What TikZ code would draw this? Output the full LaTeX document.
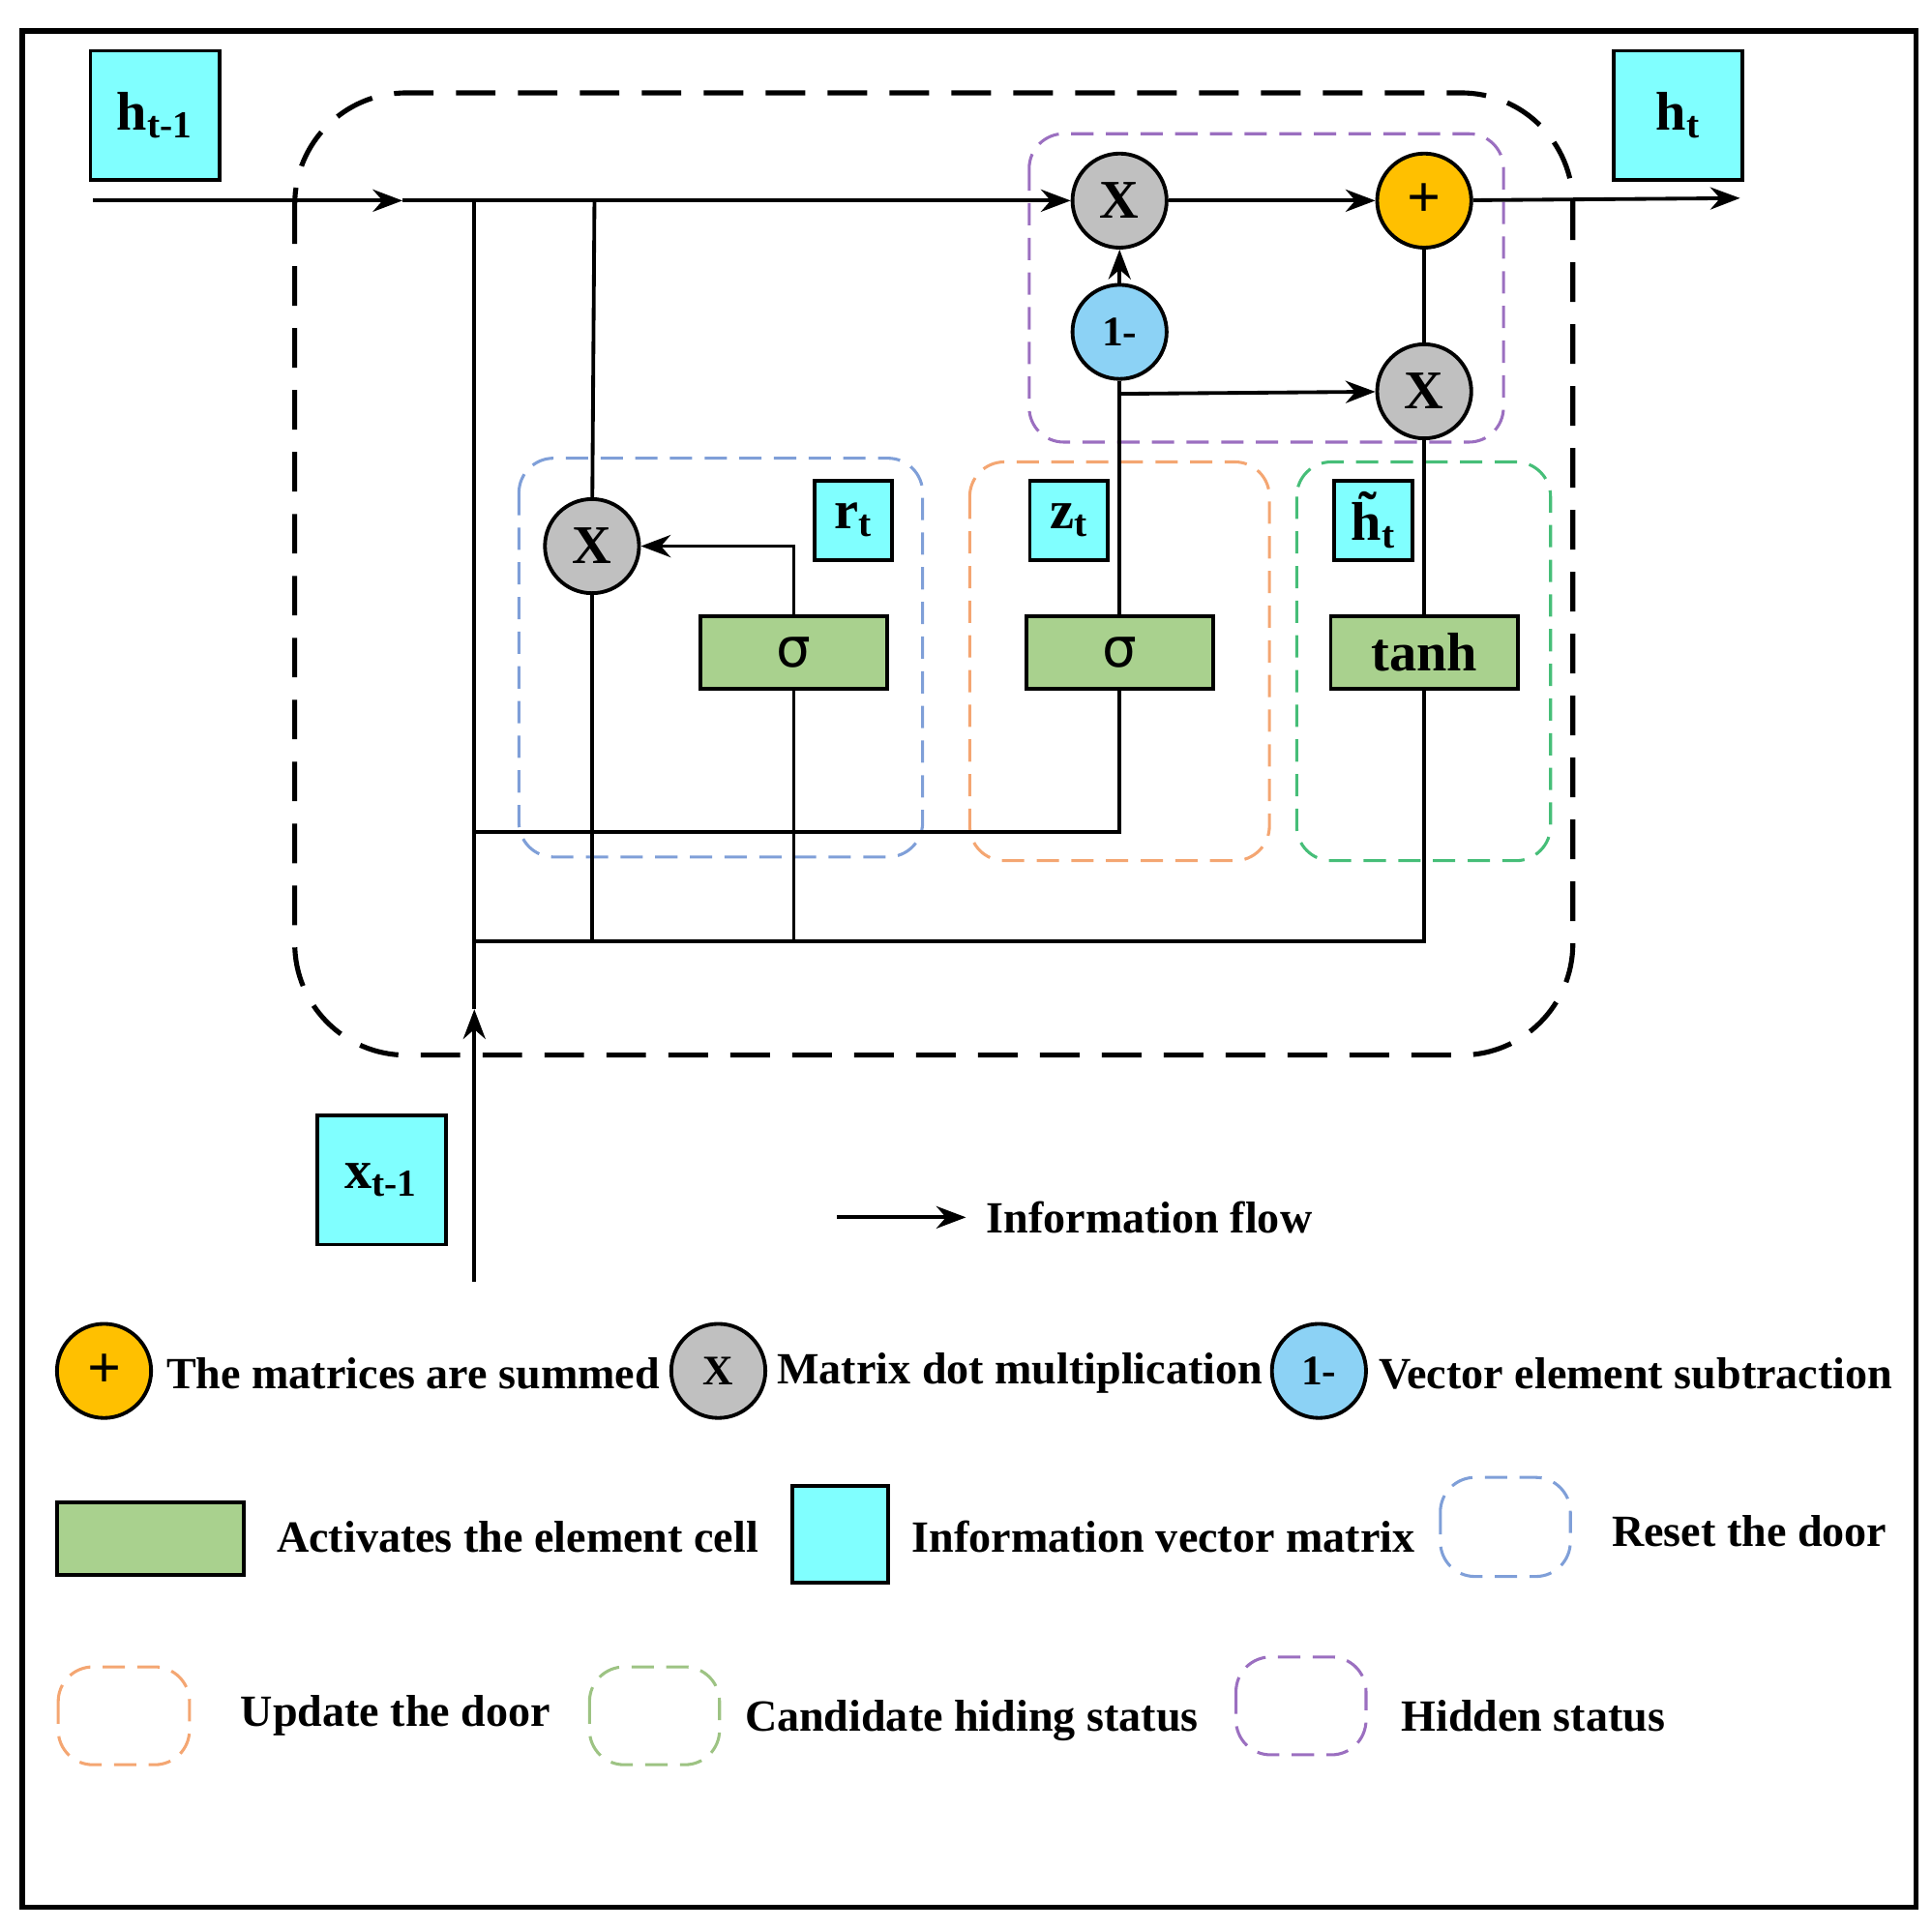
\documentclass[tikz,border=0pt]{standalone}
\usepackage{fontspec}
\setmainfont{Liberation Serif}
\usetikzlibrary{arrows.meta}
\begin{document}
\begin{tikzpicture}[x=0.5pt,y=-0.5pt,line width=1.5pt,
 arr/.style={-{Stealth[length=12pt,width=9pt]}},
 op/.style={circle,draw,minimum size=38pt,inner sep=0pt,font=\fontsize{22}{24}\selectfont\bfseries},
 gray/.style={op,fill=mgray},
 vec/.style={draw,fill=mcyan,inner sep=0pt},
 act/.style={draw,fill=mgreen,inner sep=0pt,minimum width=75.5pt,minimum height=29.5pt,font=\fontsize{22}{24}\selectfont\bfseries},
 grp/.style={dashed,dash pattern=on 9pt off 5pt,rounded corners=14pt,line width=1.2pt},
 leg/.style={anchor=west,font=\fontsize{18}{21}\selectfont\bfseries,inner sep=0pt}]
\definecolor{mgray}{RGB}{192,192,192}
\definecolor{mcyan}{RGB}{128,255,255}
\definecolor{mgreen}{RGB}{169,209,142}
\definecolor{morange}{RGB}{255,192,0}
\definecolor{mblue}{RGB}{140,210,245}
\definecolor{gblue}{RGB}{127,159,216}
\definecolor{gorange}{RGB}{244,166,114}
\definecolor{ggreen}{RGB}{70,190,120}
\definecolor{glgreen}{RGB}{157,195,131}
\definecolor{gpurple}{RGB}{155,111,192}
\useasboundingbox (0,0) rectangle (1560,1557);
\draw[line width=2pt] (18,25) rectangle (1547,1540);
\draw[line width=2pt,dash pattern=on 16pt off 9pt,rounded corners=45pt] (238,75) rectangle (1270,852);
% groups
\draw[grp,gblue] (419,370) rectangle (745,692);
\draw[grp,gorange] (783,373) rectangle (1025,695);
\draw[grp,ggreen] (1047,373) rectangle (1252,695);
\draw[grp,gpurple] (831,108) rectangle (1214,357);
% vector boxes
\node[vec,minimum width=52pt,minimum height=52pt,font=\fontsize{22}{24}\selectfont\bfseries] (hprev) at (125,93) {h\textsubscript{t-1}};
\node[vec,minimum width=52pt,minimum height=52pt,font=\fontsize{22}{24}\selectfont\bfseries] (hcur) at (1355,93) {h\textsubscript{t}};
\node[vec,minimum width=52pt,minimum height=52pt,font=\fontsize{22}{24}\selectfont\bfseries] (xprev) at (308,953) {x\textsubscript{t-1}};
\node[vec,minimum width=31.5pt,minimum height=32pt,font=\fontsize{22}{24}\selectfont\bfseries] (rt) at (689,420) {r\textsubscript{t}};
\node[vec,minimum width=31.5pt,minimum height=32pt,font=\fontsize{22}{24}\selectfont\bfseries] (zt) at (863,420) {z\textsubscript{t}};
\node[vec,minimum width=31.5pt,minimum height=32pt,font=\fontsize{22}{24}\selectfont\bfseries] (ht) at (1109,420) {\~h\textsubscript{t}};
% activations
\node[act] (sr) at (641,527) {\fontspec{DejaVu Sans}\mdseries σ};
\node[act] (sz) at (904,527) {\fontspec{DejaVu Sans}\mdseries σ};
\node[act] (th) at (1150,527) {tanh};
% ops
\node[gray] (x1) at (904,162) {X};
\node[op,fill=morange,font=\fontsize{24}{26}\selectfont\bfseries] (plus) at (1150,162) {+};
\node[op,fill=mblue,font=\fontsize{17}{19}\selectfont\bfseries] (om) at (904,268) {1-};
\node[gray] (x2) at (1150,316) {X};
\node[gray] (x3) at (478,441) {X};
% coordinates
\coordinate (s) at (75,162);
\coordinate (m) at (325,162);
\coordinate (out) at (1405,160);
\coordinate (t1) at (383,162);
\coordinate (t2) at (480,162);
\coordinate (xb) at (383,1035);
\coordinate (xm) at (383,815);
\coordinate (a1) at (383,672);
\coordinate (a2) at (904,672);
\coordinate (b1) at (383,760);
\coordinate (b2) at (1150,760);
\coordinate (b3) at (478,760);
\coordinate (b4) at (641,760);
\coordinate (rc) at (641,441);
\coordinate (zc) at (904,318);
% connections
\draw[arr] (s) -- (m);
\draw[arr] (m) -- (x1);
\draw[arr] (x1) -- (plus);
\draw[arr] (plus) -- (out);
\draw[arr] (om) -- (x1);
\draw (plus) -- (x2);
\draw (sz) -- (om);
\draw[arr] (zc) -- (x2);
\draw (th) -- (x2);
\draw[arr] (sr) -- (rc) -- (x3);
\draw (x3) -- (t2);
\draw[arr] (xb) -- (xm);
\draw (xm) -- (t1);
\draw (a1) -- (a2) -- (sz);
\draw (b1) -- (b2) -- (th);
\draw (x3) -- (b3);
\draw (sr) -- (b4);
% legend
\coordinate (l1) at (676,983); \coordinate (l2) at (780,983);
\draw[arr] (l1) -- (l2);
\node[leg] (lf) at (795,983) {Information flow};
\node[op,fill=morange,font=\fontsize{24}{26}\selectfont\bfseries] (lp) at (84,1107) {+};
\node[leg] at (133,1109) {The matrices are summed};
\node[gray,font=\fontsize{17}{19}\selectfont\bfseries] (lx) at (580,1107) {X};
\node[leg] at (626,1109) {Matrix dot multiplication};
\node[op,fill=mblue,font=\fontsize{17}{19}\selectfont\bfseries] (lo) at (1065,1107) {1-};
\node[leg] at (1112,1109) {Vector element subtraction};
\draw[fill=mgreen] (46,1213) rectangle (197,1272);
\node[leg] at (222,1241) {Activates the element cell};
\draw[fill=mcyan] (640,1200) rectangle (717,1278);
\node[leg] at (735,1241) {Information vector matrix};
\draw[grp,gblue] (1163,1193) rectangle (1268,1273);
\node[leg] at (1300,1236) {Reset the door};
\draw[grp,gorange] (47,1346) rectangle (153,1425);
\node[leg] at (193,1385) {Update the door};
\draw[grp,glgreen] (476,1346) rectangle (581,1425);
\node[leg] at (600,1389) {Candidate hiding status};
\draw[grp,gpurple] (998,1338) rectangle (1103,1417);
\node[leg] at (1130,1386) {Hidden status};
\end{tikzpicture}
\end{document}
